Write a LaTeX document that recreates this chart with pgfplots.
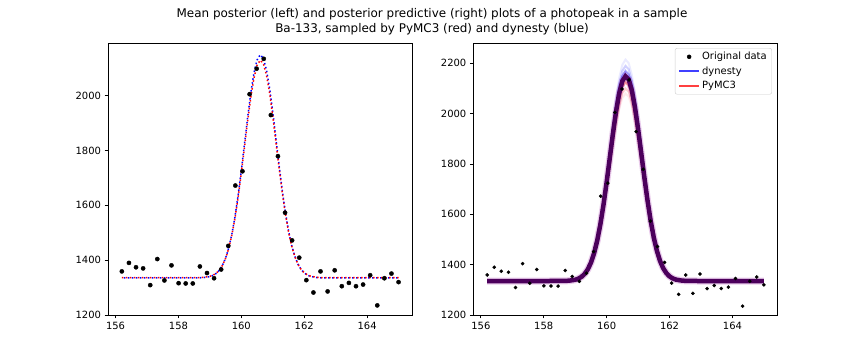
\documentclass[border=0pt]{standalone}
\usepackage{fontspec}
\setmainfont{DejaVu Sans}
\usepackage{pgfplots}
\usepackage{pgfplotstable}
\pgfplotsset{compat=1.18}

\definecolor{legblue}{rgb}{0.25,0.25,1}
\definecolor{legred}{rgb}{1,0.25,0.25}
\definecolor{core}{rgb}{0.30,0,0.36}
\definecolor{fringe}{rgb}{0.72,0.35,0.75}
\definecolor{legedge}{rgb}{0.8,0.8,0.8}

\pgfplotstableread{
x y
156.200 1359
156.426 1390
156.651 1374
156.877 1370
157.103 1309
157.328 1404
157.554 1326
157.779 1381
158.005 1316
158.231 1315
158.456 1315
158.682 1377
158.908 1353
159.133 1334
159.359 1366
159.585 1452
159.810 1672
160.036 1724
160.262 2005
160.487 2098
160.713 2134
160.938 1929
161.164 1779
161.390 1573
161.615 1472
161.841 1409
162.067 1327
162.292 1282
162.518 1359
162.744 1286
162.969 1363
163.195 1305
163.421 1317
163.646 1305
163.872 1311
164.097 1345
164.323 1235
164.549 1334
164.774 1351
165.000 1320
}\datatab

\pgfplotstableread{
x b r
156.2 1335.0 1336.0
158.0 1335.0 1336.0
158.6 1335.3 1336.3
158.8 1336.3 1337.3
159.0 1340.0 1340.9
159.1 1344.3 1345.1
159.2 1351.5 1352.1
159.3 1363.2 1363.4
159.4 1381.2 1381.0
159.5 1407.7 1406.8
159.6 1445.1 1443.3
159.7 1495.4 1492.3
159.8 1559.9 1555.1
159.9 1638.1 1631.2
160.0 1727.4 1718.3
160.1 1823.8 1812.2
160.2 1920.4 1906.3
160.3 2009.2 1992.8
160.4 2081.6 2063.3
160.5 2129.9 2110.4
160.6 2148.8 2128.8
160.7 2136.1 2116.5
160.8 2093.4 2074.8
160.9 2025.3 2008.5
161.0 1939.1 1924.5
161.1 1843.4 1831.3
161.2 1746.4 1736.8
161.3 1655.1 1647.8
161.4 1574.5 1569.3
161.5 1507.2 1503.8
161.6 1454.2 1452.1
161.7 1414.2 1413.2
161.8 1385.7 1385.4
161.9 1366.2 1366.4
162.0 1353.4 1353.9
162.1 1345.5 1346.2
162.2 1340.7 1341.6
162.4 1336.5 1337.5
162.6 1335.3 1336.3
163.0 1335.0 1336.0
165.0 1335.0 1336.0
}\meantab

\pgfplotstableread{
x b1 b2 b3 r1 r2 r3
159.4 1384.9 1383.5 1382.3 1379.8 1378.4 1377.2
159.5 1413.6 1411.4 1409.6 1405.5 1403.3 1401.5
159.6 1454.1 1450.7 1448.0 1441.9 1438.5 1435.8
159.7 1508.4 1503.5 1499.6 1490.7 1485.8 1481.8
159.8 1578.1 1571.2 1565.7 1553.3 1546.4 1540.8
159.9 1662.6 1653.3 1645.9 1629.1 1619.8 1612.4
160.0 1759.2 1747.2 1737.6 1715.9 1703.8 1694.2
160.1 1863.4 1848.4 1836.4 1809.4 1794.4 1782.4
160.2 1967.9 1949.9 1935.5 1903.2 1885.2 1870.8
160.3 2063.9 2043.2 2026.6 1989.4 1968.6 1952.1
160.4 2142.1 2119.2 2100.9 2059.6 2036.7 2018.3
160.5 2194.4 2170.0 2150.5 2106.5 2082.1 2062.6
160.6 2214.8 2189.8 2169.8 2124.8 2099.8 2079.9
160.7 2201.1 2176.5 2156.8 2112.5 2087.9 2068.2
160.8 2154.9 2131.6 2113.0 2071.0 2047.8 2029.1
160.9 2081.2 2060.0 2043.1 2004.9 1983.7 1966.8
161.0 1988.0 1969.5 1954.7 1921.3 1902.7 1887.9
161.1 1884.6 1869.0 1856.5 1828.4 1812.8 1800.3
161.2 1779.8 1767.1 1757.0 1734.3 1721.6 1711.5
161.3 1681.0 1671.2 1663.3 1645.6 1635.8 1627.9
161.4 1593.9 1586.5 1580.7 1567.4 1560.1 1554.2
161.5 1521.2 1515.9 1511.7 1502.2 1496.9 1492.6
161.6 1463.8 1460.2 1457.2 1450.7 1447.0 1444.1
161.7 1420.6 1418.2 1416.2 1411.9 1409.4 1407.5
161.8 1389.8 1388.3 1387.0 1384.2 1382.7 1381.4
}\vartab

\pgfplotsset{
  myax/.style={
    scale only axis, width=304.4bp, height=271.8bp,
    anchor=south west,
    xmin=155.76, xmax=165.44, ymin=1200,
    axis line style={line width=0.8bp},
    every tick/.style={line width=0.8bp, black},
    major tick length=3.5bp,
    tick align=outside,
    xtick pos=left, ytick pos=left,
    xtick={156,158,160,162,164},
    ticklabel style={font=\fontsize{10}{12}\selectfont},
    /pgf/number format/assume math mode=true,
    /pgf/number format/set thousands separator={},
    clip=true,
  }
}

\begin{document}
\begin{tikzpicture}
\useasboundingbox (0bp,0bp) rectangle (864bp,360bp);

\node[anchor=base, font=\fontsize{12}{14.4}\selectfont] at (432bp,342.7bp)
  {Mean posterior (left) and posterior predictive (right) plots of a photopeak in a sample};
\node[anchor=base, font=\fontsize{12}{14.4}\selectfont] at (432bp,327.9bp)
  {Ba-133, sampled by PyMC3 (red) and dynesty (blue)};

% Left axis
\begin{axis}[myax, at={(108bp,45bp)}, ymax=2191,
  ytick={1200,1400,1600,1800,2000}]
\addplot[only marks, mark=*, mark size=2.1bp, black] table[x=x,y=y] {\datatab};
\addplot[blue, line width=1.5bp, dash pattern=on 1.5bp off 2.5bp, dash phase=2bp] table[x=x,y=b] {\meantab};
\addplot[red, line width=1.5bp, dash pattern=on 1.5bp off 2.5bp] table[x=x,y=r] {\meantab};
\end{axis}

% Right axis
\begin{axis}[myax, at={(473.3bp,45bp)}, ymax=2280,
  ytick={1200,1400,1600,1800,2000,2200},
  legend style={at={(0.981,0.982)}, anchor=north east, draw=legedge,
    rounded corners=2bp, font=\fontsize{10}{12}\selectfont,
    inner xsep=3bp, inner ysep=2bp, row sep=1.5bp},
  legend cell align=left]
\addplot[fringe, line width=7bp, opacity=0.3, forget plot] table[x=x,y=b] {\meantab};
\addplot[blue, line width=2bp, opacity=0.08, forget plot] table[x=x,y=b1] {\vartab};
\addplot[blue, line width=2bp, opacity=0.18, forget plot] table[x=x,y=b2] {\vartab};
\addplot[blue, line width=2bp, opacity=0.35, forget plot] table[x=x,y=b3] {\vartab};
\addplot[red, line width=2bp, opacity=0.35, forget plot] table[x=x,y=r1] {\vartab};
\addplot[red, line width=2bp, opacity=0.18, forget plot] table[x=x,y=r2] {\vartab};
\addplot[red, line width=2bp, opacity=0.08, forget plot] table[x=x,y=r3] {\vartab};
\addplot[core, line width=4.5bp, forget plot] table[x=x,y=b] {\meantab};
\addplot[only marks, mark=*, mark size=1.6bp, black, forget plot] table[x=x,y=y] {\datatab};

\addlegendimage{legend image code/.code={\fill[black] (10bp,0bp) circle (2bp);}}
\addlegendentry{Original data}
\addlegendimage{legend image code/.code={\draw[legblue, line width=2bp] (0bp,0bp) -- (20bp,0bp);}}
\addlegendentry{dynesty}
\addlegendimage{legend image code/.code={\draw[legred, line width=2bp] (0bp,0bp) -- (20bp,0bp);}}
\addlegendentry{PyMC3}
\end{axis}
\end{tikzpicture}
\end{document}
